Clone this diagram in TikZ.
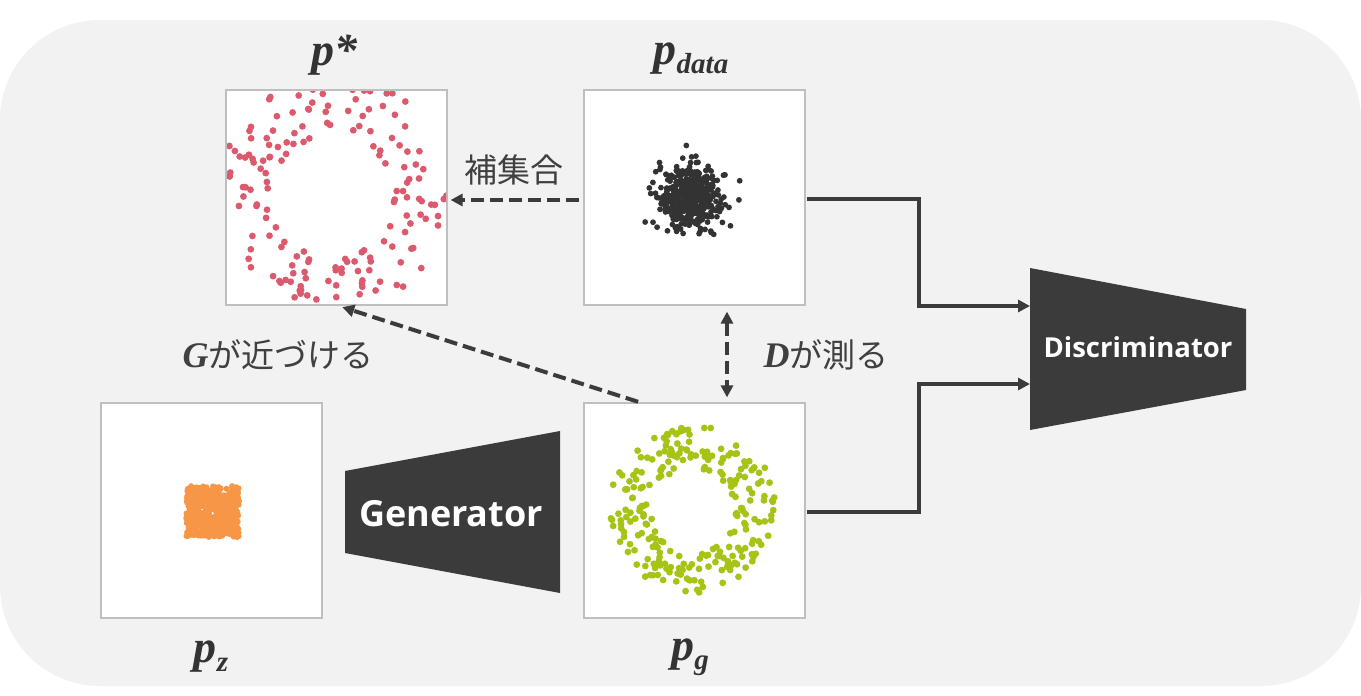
\documentclass[tikz,border=0pt]{standalone}
\usepackage{fontspec}
\setmainfont{Liberation Serif}
\newfontfamily\jpfont{Noto Sans CJK JP}
\newfontfamily\sansfont{Open Sans}
\usetikzlibrary{arrows.meta}
\definecolor{bg}{HTML}{F2F2F2}
\definecolor{dark}{HTML}{3B3B3B}
\definecolor{boxline}{HTML}{BFBFBF}
\definecolor{dotpink}{HTML}{DC5A6E}
\definecolor{dotgreen}{HTML}{A5C415}
\definecolor{dotorange}{HTML}{F79646}
\definecolor{dotdark}{HTML}{333333}
\definecolor{txt}{HTML}{404040}
\tikzset{
  plotbox/.style={draw=boxline, fill=white, line width=1.2pt, minimum width=221pt, minimum height=215pt, inner sep=0pt},
  plab/.style={text=dotdark, font=\fontsize{46}{46}\selectfont\bfseries\itshape, inner sep=0pt},
  jlab/.style={text=txt, font=\fontsize{33}{33}\selectfont\jpfont, inner sep=0pt},
  netlab/.style={text=white, font=\sansfont\bfseries, inner sep=0pt},
  dasharrow/.style={draw=dark, line width=4pt, dash pattern=on 13pt off 6pt, -{Triangle[length=12pt,width=12pt]}},
  dashboth/.style={draw=dark, line width=4pt, dash pattern=on 13pt off 6pt, {Triangle[length=12pt,width=12pt]}-{Triangle[length=12pt,width=12pt]}},
  solidarrow/.style={draw=dark, line width=4pt, -{Triangle[length=12pt,width=12pt]}},
  netshape/.style={fill=dark}
}
\newcommand{\psub}[1]{\raisebox{-9pt}{\fontsize{29}{29}\selectfont #1}}
\begin{document}
\begin{tikzpicture}[x=1pt,y=-1pt]
\useasboundingbox (0,0) rectangle (1361,696);
\fill[bg, rounded corners=100pt] (0,20) rectangle (1361,686);

% plot boxes
\node[plotbox] (pstar) at (336.5,197.5) {};
\node[plotbox] (pdata) at (694.5,197.5) {};
\node[plotbox] (pz) at (211.5,510.5) {};
\node[plotbox] (pg) at (694.5,510.5) {};

\pgfmathsetseed{11}
% p* ring
\begin{scope}
\clip (227,91) rectangle (446,304);
\foreach \i in {1,...,165}{
  \pgfmathsetmacro{\a}{rnd*360}
  \pgfmathsetmacro{\r}{60+rnd*60}
  \fill[dotpink] ({334+\r*cos(\a)},{195+\r*sin(\a)}) circle (3.4pt);
}
\end{scope}
% p_data gaussian
\begin{scope}
\clip (585,91) rectangle (804,304);
\foreach \i in {1,...,480}{
  \pgfmathsetmacro{\a}{rnd*360}
  \pgfmathsetmacro{\r}{14.5*sqrt(-2*ln(rnd+0.00001))}
  \fill[dotdark] ({690+\r*cos(\a)},{197+\r*sin(\a)}) circle (2.9pt);
}
\end{scope}
% p_z uniform square
\begin{scope}
\clip (102,404) rectangle (321,617);
\foreach \i in {1,...,520}{
  \pgfmathsetmacro{\px}{186+rnd*53}
  \pgfmathsetmacro{\py}{486+rnd*51}
  \fill[dotorange] (\px,\py) circle (3pt);
}
\end{scope}
% p_g ring
\begin{scope}
\clip (585,404) rectangle (804,617);
\foreach \i in {1,...,250}{
  \pgfmathsetmacro{\a}{rnd*360}
  \pgfmathsetmacro{\r}{42+rnd*42}
  \fill[dotgreen] ({693+\r*cos(\a)},{510+\r*sin(\a)}) circle (3.4pt);
}
\end{scope}

% labels
\node[plab] (lstar) at (334,55) {p*};
\node[plab] (ldata) at (691,59) {p\psub{data}};
\node[plab] (lz) at (211,657) {p\psub{z}};
\node[plab] (lg) at (690,657) {p\psub{g}};

% networks
\fill[netshape] (345,471) -- (560,431) -- (560,593) -- (345,553) -- cycle;
\node[netlab, font=\sansfont\bfseries\fontsize{36}{36}\selectfont] (gen) at (451,514) {Generator};
\fill[netshape] (1030,268) -- (1246,309) -- (1246,390) -- (1030,430) -- cycle;
\node[netlab, font=\sansfont\bfseries\fontsize{27.5}{27.5}\selectfont] (disc) at (1138,347) {Discriminator};
\coordinate (dIn1) at (1030,306);
\coordinate (dIn2) at (1030,384);

% japanese labels
\node[jlab] (comp) at (514,170) {補集合};
\node[jlab] (gnear) at (278,355) {{\fontspec{Liberation Serif}\bfseries\itshape\fontsize{36}{36}\selectfont G}が近づける};
\node[jlab] (dmeas) at (826,355) {{\fontspec{Liberation Serif}\bfseries\itshape\fontsize{36}{36}\selectfont D}が測る};

% connectors
\draw[dasharrow, shorten <=4pt, shorten >=3pt] ([yshift=-2.5pt]pdata.west) -- ([yshift=-2.5pt]pstar.east);
\draw[dasharrow, shorten <=2pt, shorten >=5pt] ([xshift=-54.5pt]pg.north) -- ([xshift=1pt]pstar.south);
\draw[dashboth, shorten <=6pt, shorten >=5pt] ([xshift=32.5pt]pdata.south) -- ([xshift=32.5pt]pg.north);
\draw[solidarrow, shorten <=1pt] ([yshift=-1.5pt]pdata.east) -- ++(113,0) |- (dIn1);
\draw[solidarrow, shorten <=1pt] ([yshift=-1.5pt]pg.east) -- ++(113,0) |- (dIn2);
\end{tikzpicture}
\end{document}
